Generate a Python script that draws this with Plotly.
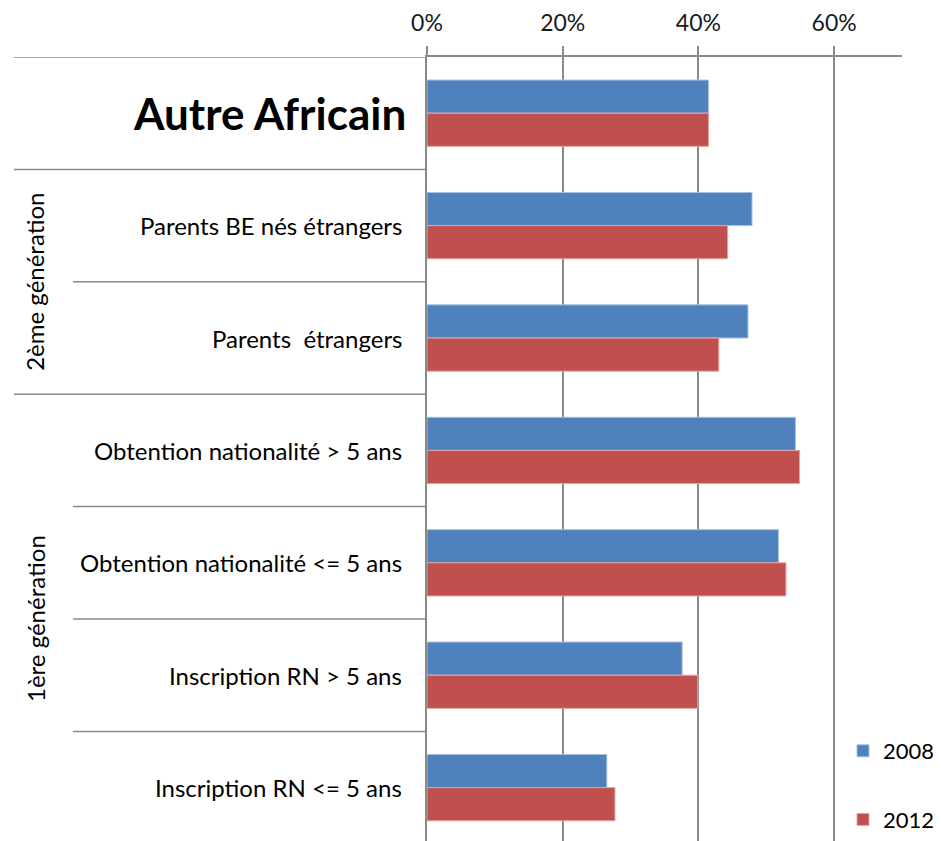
import plotly.graph_objects as go

# Données
categories = ["Autre Africain", "Parents BE nés étrangers", "Parents  étrangers",
              "Obtention nationalité > 5 ans", "Obtention nationalité <= 5 ans",
              "Inscription RN > 5 ans", "Inscription RN <= 5 ans"]
vals_2008 = [0.415, 0.479, 0.473, 0.543, 0.518, 0.376, 0.265]
vals_2012 = [0.415, 0.443, 0.430, 0.549, 0.529, 0.399, 0.277]
years = ["2008", "2012"]
groups = ["2ème génération", "1ère génération"]
group_centers = [1.5, 4.5]

# la page html ajoute une marge de 8px autour du graphique
OFF = 8
W, H = 941 - OFF, 841 - OFF
L, R, T, B = 427 - OFF, 941 - 902, 55 - OFF, 0
FONT = "Lato, Arial, sans-serif"
GRAY = "#8a8a8a"

fig = go.Figure()
fig.add_trace(go.Bar(
    y=categories, x=vals_2008, name=years[0], orientation="h",
    marker=dict(color="#4F81BD", line=dict(color="#a9c1e0", width=1)),
    legendgroup="a"
))
fig.add_trace(go.Bar(
    y=categories, x=vals_2012, name=years[1], orientation="h",
    marker=dict(color="#C0504D", line=dict(color="#e3a5a3", width=1)),
    legendgroup="b"
))

pw = W - L - R
def page_x(p):
    # position en pixels de la page -> coordonnée paper
    return (p - OFF - L) / pw

# étiquettes des catégories
annotations = []
for i, c in enumerate(categories):
    txt = c.replace("<", "&lt;").replace("  ", " \u00a0")
    if i == 0:
        txt = "<b>" + txt + "</b>"
        size, shift = 44, -19
    else:
        size, shift = 24, -23
    annotations.append(dict(
        x=0, xref="paper", y=c, yref="y", text=txt, showarrow=False,
        xanchor="right", yanchor="middle", xshift=shift,
        font=dict(family=FONT, size=size, color="#000000")
    ))

# étiquettes de groupe (verticales)
for g, yc in zip(groups, group_centers):
    annotations.append(dict(
        x=page_x(35), xref="paper", y=yc, yref="y", text=g,
        showarrow=False, textangle=-90, xanchor="center", yanchor="middle",
        font=dict(family=FONT, size=24, color="#000000")
    ))

# lignes de séparation
shapes = [dict(type="line", xref="paper", yref="y", x0=page_x(14), x1=0,
               y0=-0.5, y1=-0.5, line=dict(color=GRAY, width=1.5))]
for k in range(len(categories)):
    yb = k + 0.5
    x0 = 14 if k in (0, 2) else 73
    shapes.append(dict(type="line", xref="paper", yref="y",
                       x0=page_x(x0), x1=0, y0=yb, y1=yb,
                       line=dict(color=GRAY, width=1.5)))

fig.update_layout(
    width=W, height=H,
    margin=dict(l=L, r=R, t=T, b=B),
    paper_bgcolor="white", plot_bgcolor="white",
    barmode="group", bargap=0.41, bargroupgap=0,
    font=dict(family=FONT, size=24, color="#000000"),
    xaxis=dict(
        side="top", range=[0, 0.7], dtick=0.2, tick0=0, tickformat=".0%",
        showgrid=True, gridcolor=GRAY, gridwidth=1.5,
        showline=True, linecolor=GRAY, linewidth=1.5,
        ticks="outside", ticklen=9, tickcolor=GRAY, tickwidth=1.5,
        ticklabelstandoff=6,
        tickfont=dict(family=FONT, size=23, color="#1a1a1a"),
        zeroline=False, fixedrange=True
    ),
    yaxis=dict(
        range=[6.475, -0.5], showticklabels=False, showgrid=False,
        showline=True, linecolor=GRAY, linewidth=1.5, zeroline=False,
        fixedrange=True
    ),
    legend=dict(
        x=page_x(843), xanchor="left", y=0, yanchor="bottom",
        bgcolor="rgba(0,0,0,0)", tracegroupgap=37, traceorder="grouped",
        font=dict(family=FONT, size=22, color="#000000")
    ),
    annotations=annotations,
    shapes=shapes,
    showlegend=True
)

fig.write_html("out.html")
